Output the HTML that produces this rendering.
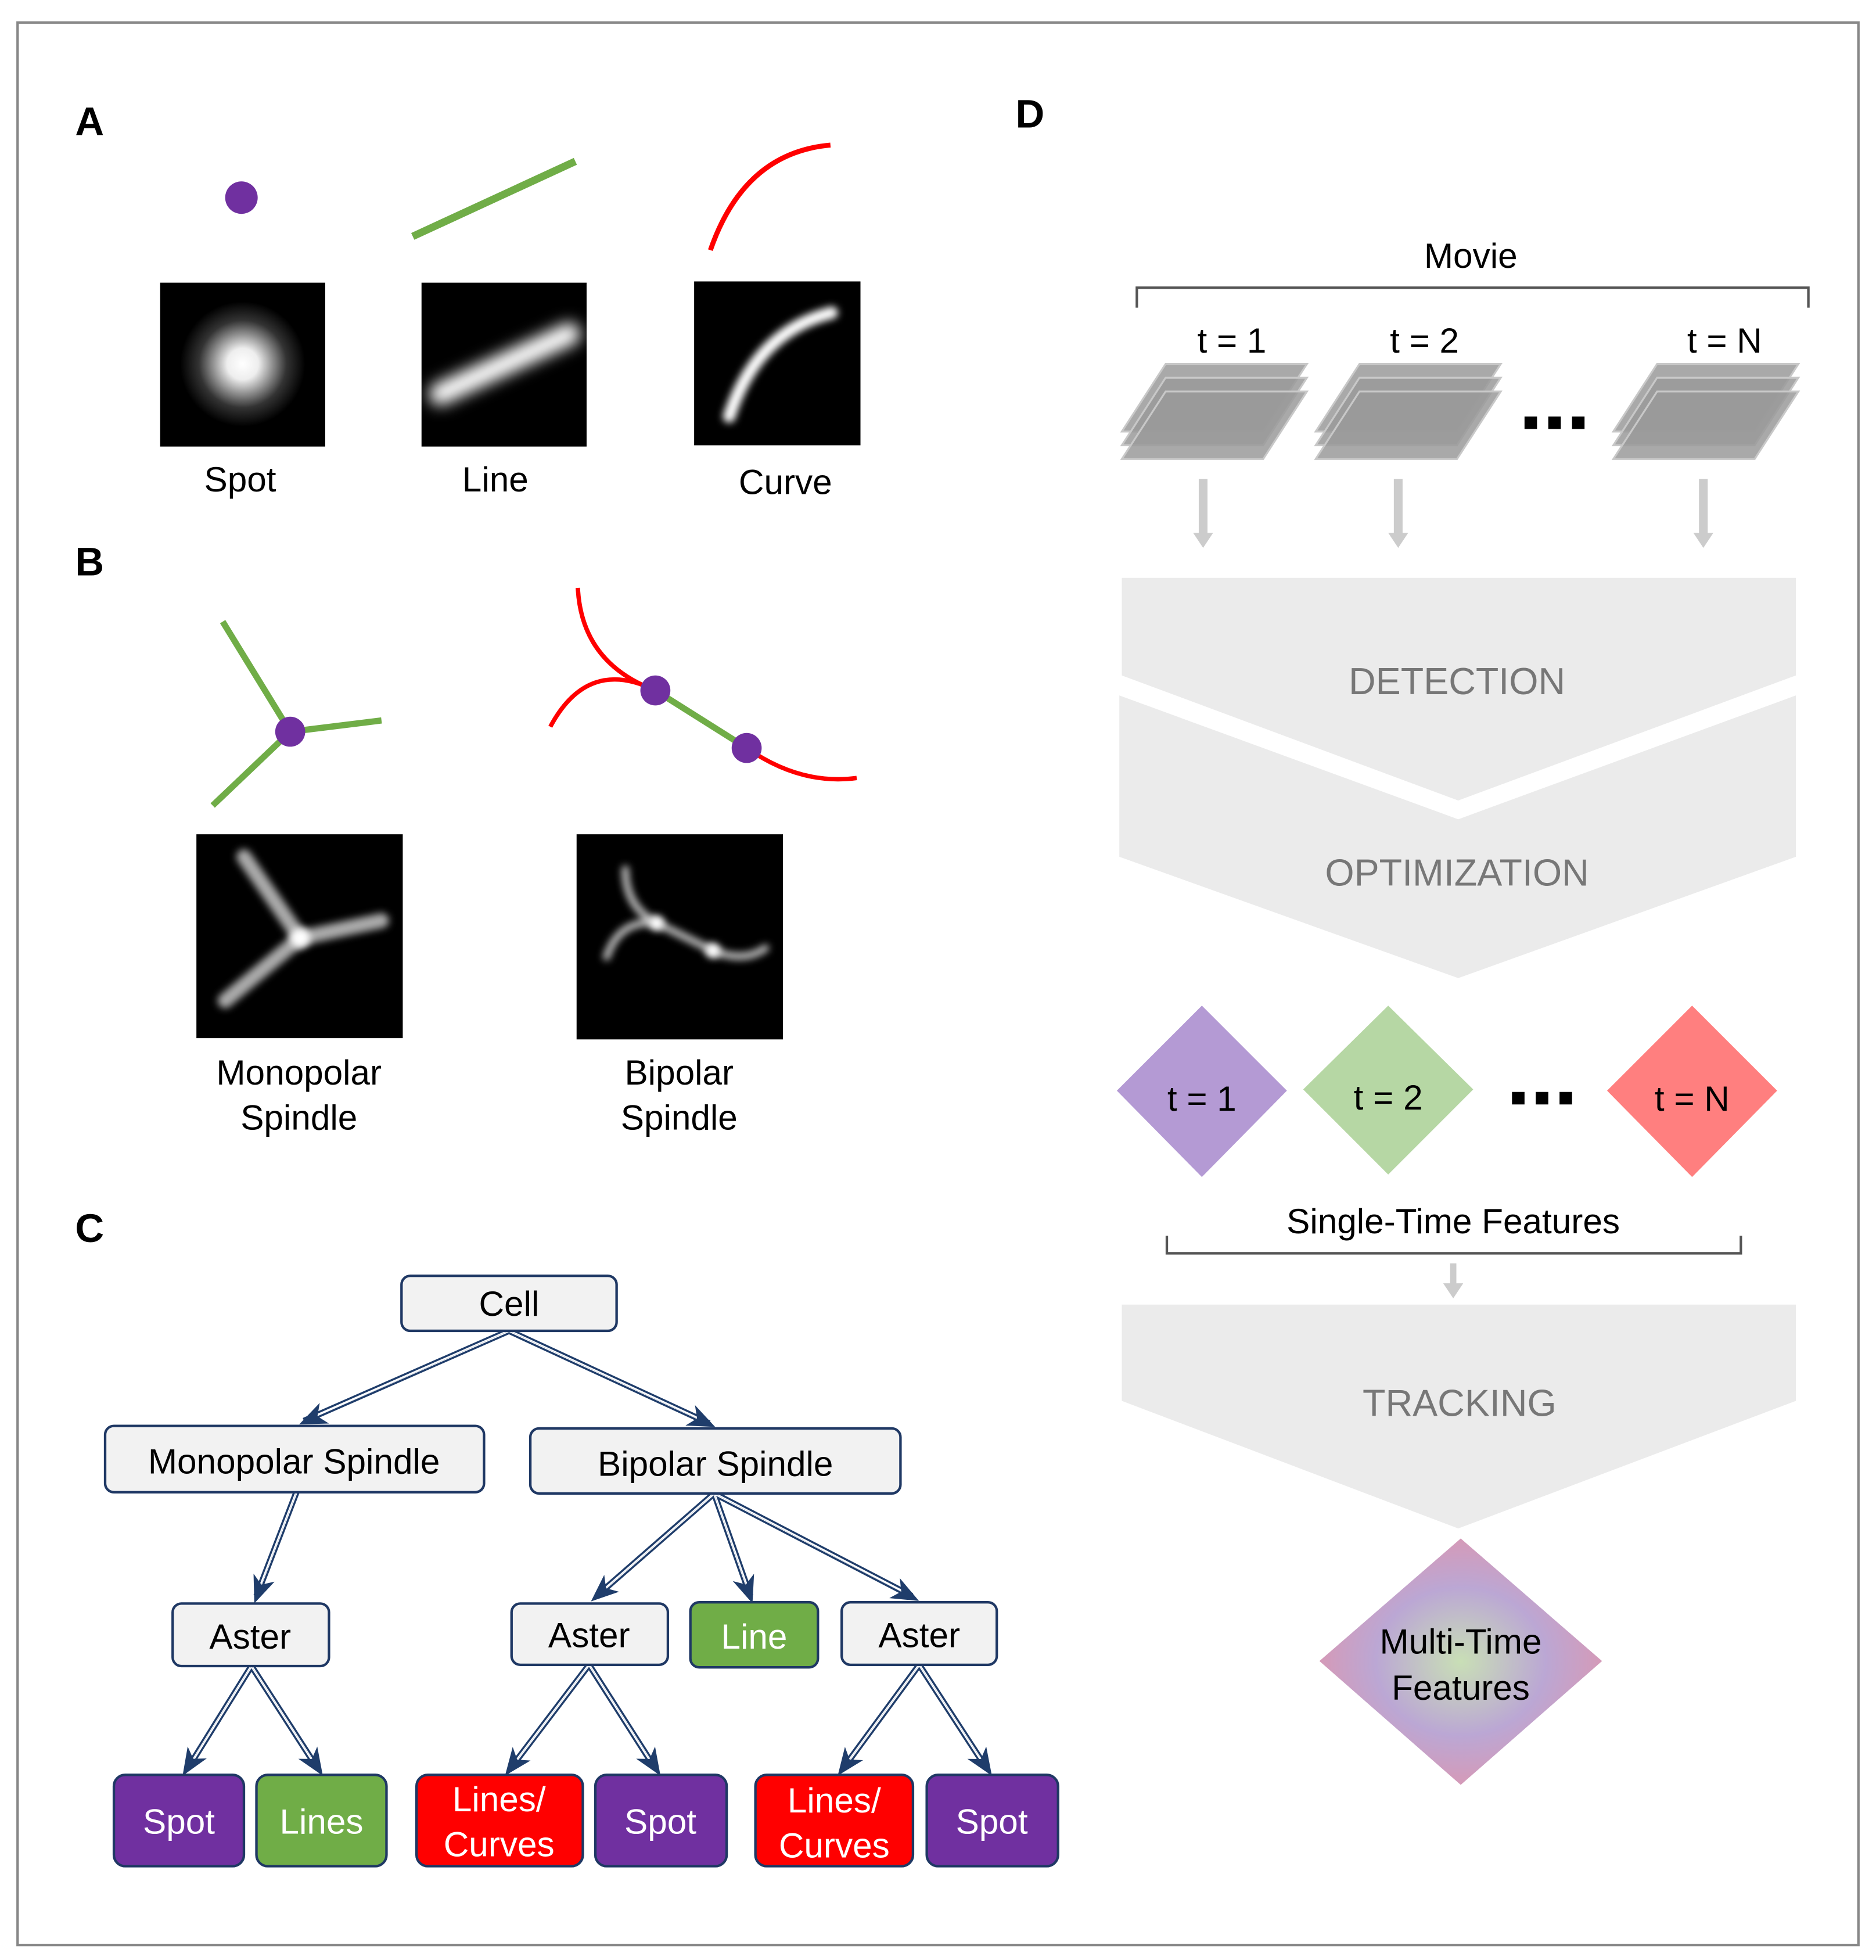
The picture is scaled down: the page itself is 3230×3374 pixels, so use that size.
<!DOCTYPE html>
<html><head><meta charset="utf-8"><style>
html,body{margin:0;padding:0;background:#fff}
svg{display:block}
text{font-family:"Liberation Sans",Arial,sans-serif}
</style></head><body>
<svg width="3230" height="3374" viewBox="0 0 1500 1567" xmlns="http://www.w3.org/2000/svg">
<defs>
<filter id="b1" x="-50%" y="-50%" width="200%" height="200%"><feGaussianBlur stdDeviation="6"/></filter>
<filter id="b2" x="-50%" y="-50%" width="200%" height="200%"><feGaussianBlur stdDeviation="3"/></filter>
<radialGradient id="spot"><stop offset="0" stop-color="#fff"/><stop offset="0.25" stop-color="#eee"/><stop offset="0.7" stop-color="#333"/><stop offset="1" stop-color="#000"/></radialGradient>
<radialGradient id="mt"><stop offset="0" stop-color="#c9dfb6"/><stop offset="0.6" stop-color="#bba7d4"/><stop offset="1" stop-color="#d59ab8"/></radialGradient>
<marker id="ah" markerWidth="22" markerHeight="18" refX="20" refY="9" orient="auto" markerUnits="userSpaceOnUse"><path d="M0,0 L22,9 L0,18 L6,9 Z" fill="#1f3d6b"/></marker>
<marker id="gh" markerWidth="20" markerHeight="16" refX="2" refY="8" orient="auto" markerUnits="userSpaceOnUse"><path d="M0,0 L12,8 L0,16 Z" fill="#ccc"/></marker>
</defs>
<rect x="14" y="18" width="1472" height="1537" fill="#fff" stroke="#888" stroke-width="2"/>
<g font-weight="bold" font-size="32" fill="#000">
<text x="60" y="108">A</text><text x="60" y="460">B</text><text x="60" y="993">C</text><text x="812" y="102">D</text></g>
<circle cx="193" cy="158" r="13" fill="#7030a0"/>
<line x1="330" y1="189" x2="460" y2="129" stroke="#70ad47" stroke-width="6"/>
<path d="M568,200 Q595,122 664,116" fill="none" stroke="#f00" stroke-width="4"/>
<rect x="128" y="226" width="132" height="131" fill="#000"/>
<circle cx="194" cy="291" r="50" fill="url(#spot)"/>
<rect x="337" y="226" width="132" height="131" fill="#000"/>
<line x1="352" y1="315" x2="455" y2="267" stroke="#fff" stroke-width="18" stroke-linecap="round" filter="url(#b1)"/>
<rect x="555" y="225" width="133" height="131" fill="#000"/>
<path d="M583,333 Q605,265 665,250" fill="none" stroke="#fff" stroke-width="10" stroke-linecap="round" filter="url(#b2)"/>
<g font-size="28" text-anchor="middle" fill="#000">
<text x="192" y="393">Spot</text><text x="396" y="393">Line</text><text x="628" y="395">Curve</text>
<text x="239" y="867">Monopolar</text><text x="239" y="903">Spindle</text>
<text x="543" y="867">Bipolar</text><text x="543" y="903">Spindle</text></g>
<g stroke="#70ad47" stroke-width="5"><line x1="232" y1="585" x2="178" y2="497"/><line x1="232" y1="585" x2="305" y2="576"/><line x1="232" y1="585" x2="170" y2="644"/><line x1="524" y1="552" x2="597" y2="598"/></g>
<g fill="none" stroke="#f00" stroke-width="3.5"><path d="M462,470 Q465,530 524,552"/><path d="M440,581 Q470,525 524,552"/><path d="M597,598 Q640,628 685,622"/></g>
<circle cx="232" cy="585" r="12" fill="#7030a0"/><circle cx="524" cy="552" r="12" fill="#7030a0"/><circle cx="597" cy="598" r="12" fill="#7030a0"/>
<rect x="157" y="667" width="165" height="163" fill="#000"/>
<g stroke="#aaa" stroke-width="12" stroke-linecap="round" filter="url(#b2)" fill="none"><path d="M240,750 L195,685"/><path d="M240,750 L305,736"/><path d="M240,750 L180,800"/></g>
<circle cx="240" cy="750" r="8" fill="#fff" filter="url(#b2)"/>
<rect x="461" y="667" width="165" height="164" fill="#000"/>
<g stroke="#bbb" stroke-width="6" stroke-linecap="round" filter="url(#b2)" fill="none"><path d="M500,695 Q500,725 525,738 L570,760 Q595,770 612,758"/><path d="M485,765 Q495,735 525,738"/></g>
<circle cx="525" cy="738" r="6" fill="#fff" filter="url(#b2)"/><circle cx="570" cy="760" r="6" fill="#fff" filter="url(#b2)"/>
<g stroke="#1f3d6b" stroke-width="5" fill="none">
<path d="M407,1064 L243,1136"/><path d="M407,1064 L567,1138"/><path d="M237,1193 L205,1276"/>
<path d="M571,1194 L477,1276"/><path d="M571,1194 L600,1276"/><path d="M571,1194 L729,1276"/>
<path d="M201,1332 L150,1414"/><path d="M201,1332 L254,1414"/>
<path d="M471,1331 L408,1414"/><path d="M471,1331 L524,1414"/>
<path d="M735,1331 L674,1414"/><path d="M735,1331 L789,1414"/></g>
<g stroke="#fff" stroke-width="1.8" fill="none">
<path d="M407,1064 L243,1136"/><path d="M407,1064 L567,1138"/><path d="M237,1193 L205,1276"/>
<path d="M571,1194 L477,1276"/><path d="M571,1194 L600,1276"/><path d="M571,1194 L729,1276"/>
<path d="M201,1332 L150,1414"/><path d="M201,1332 L254,1414"/>
<path d="M471,1331 L408,1414"/><path d="M471,1331 L524,1414"/>
<path d="M735,1331 L674,1414"/><path d="M735,1331 L789,1414"/></g>
<g fill="none" stroke-width="0.1" stroke="#1f3d6b">
<path d="M407,1064 L241,1138" marker-end="url(#ah)"/><path d="M407,1064 L570,1140" marker-end="url(#ah)"/><path d="M237,1193 L204,1280" marker-end="url(#ah)"/>
<path d="M571,1194 L474,1279" marker-end="url(#ah)"/><path d="M571,1194 L601,1280" marker-end="url(#ah)"/><path d="M571,1194 L733,1279" marker-end="url(#ah)"/>
<path d="M201,1332 L147,1418" marker-end="url(#ah)"/><path d="M201,1332 L257,1418" marker-end="url(#ah)"/>
<path d="M471,1331 L405,1418" marker-end="url(#ah)"/><path d="M471,1331 L527,1418" marker-end="url(#ah)"/>
<path d="M735,1331 L671,1418" marker-end="url(#ah)"/><path d="M735,1331 L792,1418" marker-end="url(#ah)"/></g>
<g stroke="#1f3864" stroke-width="2">
<rect x="321" y="1020" width="172" height="44" rx="7" fill="#f2f2f2"/>
<rect x="84" y="1140" width="303" height="53" rx="7" fill="#f2f2f2"/>
<rect x="424" y="1142" width="296" height="52" rx="7" fill="#f2f2f2"/>
<rect x="138" y="1282" width="125" height="50" rx="7" fill="#f2f2f2"/>
<rect x="409" y="1282" width="125" height="49" rx="7" fill="#f2f2f2"/>
<rect x="552" y="1281" width="102" height="52" rx="7" fill="#70ad47"/>
<rect x="673" y="1281" width="124" height="50" rx="7" fill="#f2f2f2"/>
<rect x="91" y="1419" width="104" height="73" rx="9" fill="#7030a0"/>
<rect x="205" y="1419" width="104" height="73" rx="9" fill="#70ad47"/>
<rect x="333" y="1419" width="133" height="73" rx="9" fill="#f00"/>
<rect x="476" y="1419" width="105" height="73" rx="9" fill="#7030a0"/>
<rect x="604" y="1419" width="126" height="73" rx="9" fill="#f00"/>
<rect x="741" y="1419" width="105" height="73" rx="9" fill="#7030a0"/></g>
<g font-size="28" text-anchor="middle" fill="#000">
<text x="407" y="1052">Cell</text><text x="235" y="1178">Monopolar Spindle</text><text x="572" y="1180">Bipolar Spindle</text>
<text x="200" y="1318">Aster</text><text x="471" y="1317">Aster</text><text x="735" y="1317">Aster</text></g>
<g font-size="28" text-anchor="middle" fill="#fff">
<text x="603" y="1318">Line</text><text x="143" y="1466">Spot</text><text x="257" y="1466">Lines</text>
<text x="399" y="1448">Lines/</text><text x="399" y="1484">Curves</text><text x="528" y="1466">Spot</text>
<text x="667" y="1449">Lines/</text><text x="667" y="1485">Curves</text><text x="793" y="1466">Spot</text></g>
<text x="1176" y="214" font-size="28" text-anchor="middle">Movie</text>
<path d="M909,246 V230 H1446 V246" fill="none" stroke="#555" stroke-width="2"/>
<g font-size="28" text-anchor="middle"><text x="985" y="282">t = 1</text><text x="1139" y="282">t = 2</text><text x="1379" y="282">t = N</text></g>
<g fill="#9a9a9a" stroke="#c8c8c8" stroke-width="1.5" fill-opacity="0.85">
<g id="stk"><path d="M932,291 H1045 L1010,345 H897 Z"/><path d="M932,302 H1045 L1010,356 H897 Z"/><path d="M932,313 H1045 L1010,367 H897 Z"/></g>
<use href="#stk" transform="translate(155,0)"/><use href="#stk" transform="translate(393,0)"/></g>
<g fill="#000"><rect x="1219" y="333" width="10" height="10"/><rect x="1238" y="333" width="10" height="10"/><rect x="1257" y="333" width="10" height="10"/>
<rect x="1209" y="873" width="10" height="10"/><rect x="1228" y="873" width="10" height="10"/><rect x="1247" y="873" width="10" height="10"/></g>
<g stroke="#ccc" stroke-width="7"><line x1="962" y1="383" x2="962" y2="428" marker-end="url(#gh)"/><line x1="1118" y1="383" x2="1118" y2="428" marker-end="url(#gh)"/><line x1="1362" y1="383" x2="1362" y2="428" marker-end="url(#gh)"/></g>
<g fill="#ebebeb">
<path d="M897,462 H1436 V540 L1166,640 L897,540 Z"/>
<path d="M895,556 L1166,655 L1436,556 V685 L1166,782 L895,685 Z"/>
<path d="M897,1043 H1436 V1120 L1166,1222 L897,1120 Z"/></g>
<g font-size="30" fill="#777" text-anchor="middle"><text x="1165" y="555">DETECTION</text><text x="1165" y="708">OPTIMIZATION</text><text x="1167" y="1132">TRACKING</text></g>
<path d="M961,804 L1029,872 L961,941 L893,872 Z" fill="#b49ad4"/>
<path d="M1110,804 L1178,871 L1110,939 L1042,871 Z" fill="#b6d7a4"/>
<path d="M1353,804 L1421,872 L1353,941 L1285,872 Z" fill="#ff7f7f"/>
<g font-size="28" text-anchor="middle"><text x="961" y="888">t = 1</text><text x="1110" y="887">t = 2</text><text x="1353" y="888">t = N</text>
<text x="1162" y="986">Single-Time Features</text></g>
<path d="M933,988 V1002 H1392 V988" fill="none" stroke="#555" stroke-width="2"/>
<line x1="1162" y1="1010" x2="1162" y2="1028" stroke="#ccc" stroke-width="5" marker-end="url(#gh)"/>
<path d="M1168,1230 L1281,1328 L1168,1427 L1055,1328 Z" fill="url(#mt)"/>
<g font-size="28" text-anchor="middle"><text x="1168" y="1322">Multi-Time</text><text x="1168" y="1359">Features</text></g>
</svg>
</body></html>
